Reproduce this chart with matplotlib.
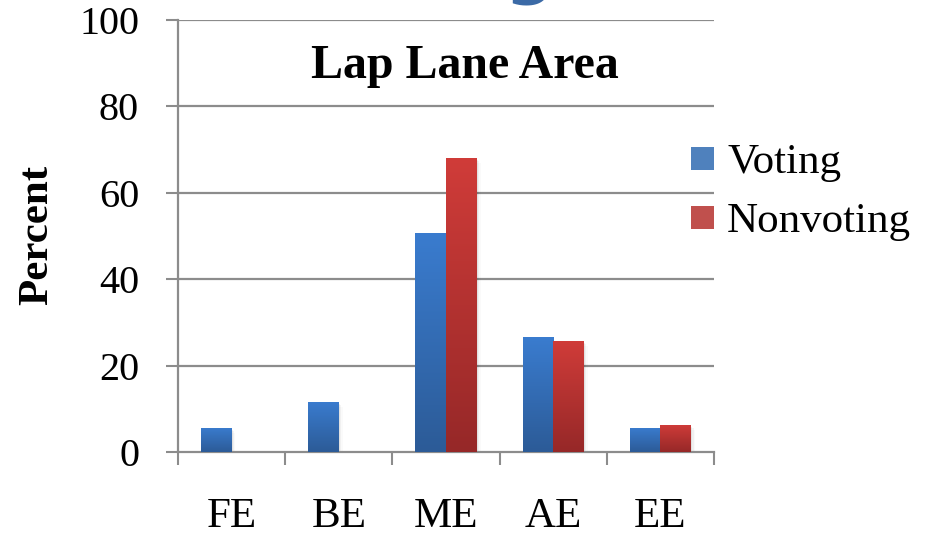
import numpy as np
import matplotlib
matplotlib.use("Agg")
import matplotlib.pyplot as plt
from matplotlib.patches import Rectangle
from matplotlib.colors import LinearSegmentedColormap

categories = ["FE", "BE", "ME", "AE", "EE"]
voting = [5.6, 11.6, 50.7, 26.6, 5.6]
nonvoting = [0, 0, 68.1, 25.7, 6.3]
yticks = [0, 20, 40, 60, 80, 100]
series_names = ["Voting", "Nonvoting"]
series_colors = ["#4f81bd", "#c0504d"]

SERIF = ["Liberation Serif", "DejaVu Serif"]
GRID = "#8c8c8c"
W, H = 928, 535

blue_grad = LinearSegmentedColormap.from_list("blue", ["#2c5b97", "#3a7ccf"])
red_grad = LinearSegmentedColormap.from_list("red", ["#962828", "#d03c39"])

fig = plt.figure(figsize=(W / 100, H / 100), dpi=100)
ax = fig.add_axes([178 / W, 1 - 452 / H, (714 - 178) / W, (452 - 20) / H])

x = np.arange(len(categories))
w = 0.286
gradient = np.linspace(0, 1, 256).reshape(-1, 1)


def grad_bars(xs, vals, cmap, base_color):
    bars = ax.bar(xs, vals, width=w, color=base_color, zorder=3)
    for b in bars:
        h = b.get_height()
        if h <= 0:
            continue
        x0, bw = b.get_x(), b.get_width()
        # soft drop shadow
        for k, a in enumerate([0.06, 0.04, 0.02]):
            ax.add_patch(Rectangle((x0 + 0.012 * (k + 1), -0.4 * (k + 1)), bw, h,
                                   facecolor="black", alpha=a, lw=0, zorder=2))
        im = ax.imshow(gradient, cmap=cmap, aspect="auto", origin="lower",
                       extent=(x0, x0 + bw, 0, h), zorder=4)
        im.set_clip_path(b)
    return bars


grad_bars(x - w / 2, voting, blue_grad, series_colors[0])
grad_bars(x + w / 2, nonvoting, red_grad, series_colors[1])

ax.set_xlim(-0.5, len(categories) - 0.5)
ax.set_ylim(0, 100)

ax.set_yticks(yticks)
ax.set_yticklabels([str(t) for t in yticks], fontfamily=SERIF, fontsize=29)
ax.tick_params(axis="y", length=9, width=1.5, color=GRID, pad=19)
for yv in yticks[1:]:
    ax.axhline(yv, color=GRID, lw=1.6, zorder=1)

ax.set_xticks(x)
ax.set_xticklabels(categories, fontfamily=SERIF, fontsize=31)
ax.tick_params(axis="x", which="major", length=0, pad=33)
ax.set_xticks(np.arange(len(categories) + 1) - 0.5, minor=True)
ax.tick_params(axis="x", which="minor", length=9, width=1.5, color=GRID)

for s in ["top", "right"]:
    ax.spines[s].set_visible(False)
for s in ["left", "bottom"]:
    ax.spines[s].set_color(GRID)
    ax.spines[s].set_linewidth(1.6)
ax.set_facecolor("none")

fig.text(465 / W, 1 - 78 / H, "Lap Lane Area", fontfamily=SERIF,
         fontweight="bold", fontsize=34.5, ha="center", va="baseline")
fig.text(37 / W, 1 - 235 / H, "Percent", fontfamily=SERIF,
         fontweight="bold", fontsize=31, rotation=90, ha="center", va="center")

# partial heading from the slide above the chart
fig.text(530 / W, 1 + 9 / H, "g", color="#3b6aa6", fontfamily="DejaVu Sans",
         fontweight="bold", fontsize=50, ha="center", va="baseline")

# legend: colour keys and labels
for i, (name, col) in enumerate(zip(series_names, series_colors)):
    cy = 158.5 + 59 * i
    fig.add_artist(Rectangle((691 / W, 1 - (cy + 11.5) / H), 23 / W, 23 / H,
                             transform=fig.transFigure, facecolor=col, lw=0))
    fig.text(727 / W, 1 - (cy + 14) / H, name, fontfamily=SERIF, fontsize=31,
             ha="left", va="baseline")

fig.savefig("out.png", dpi=100)
